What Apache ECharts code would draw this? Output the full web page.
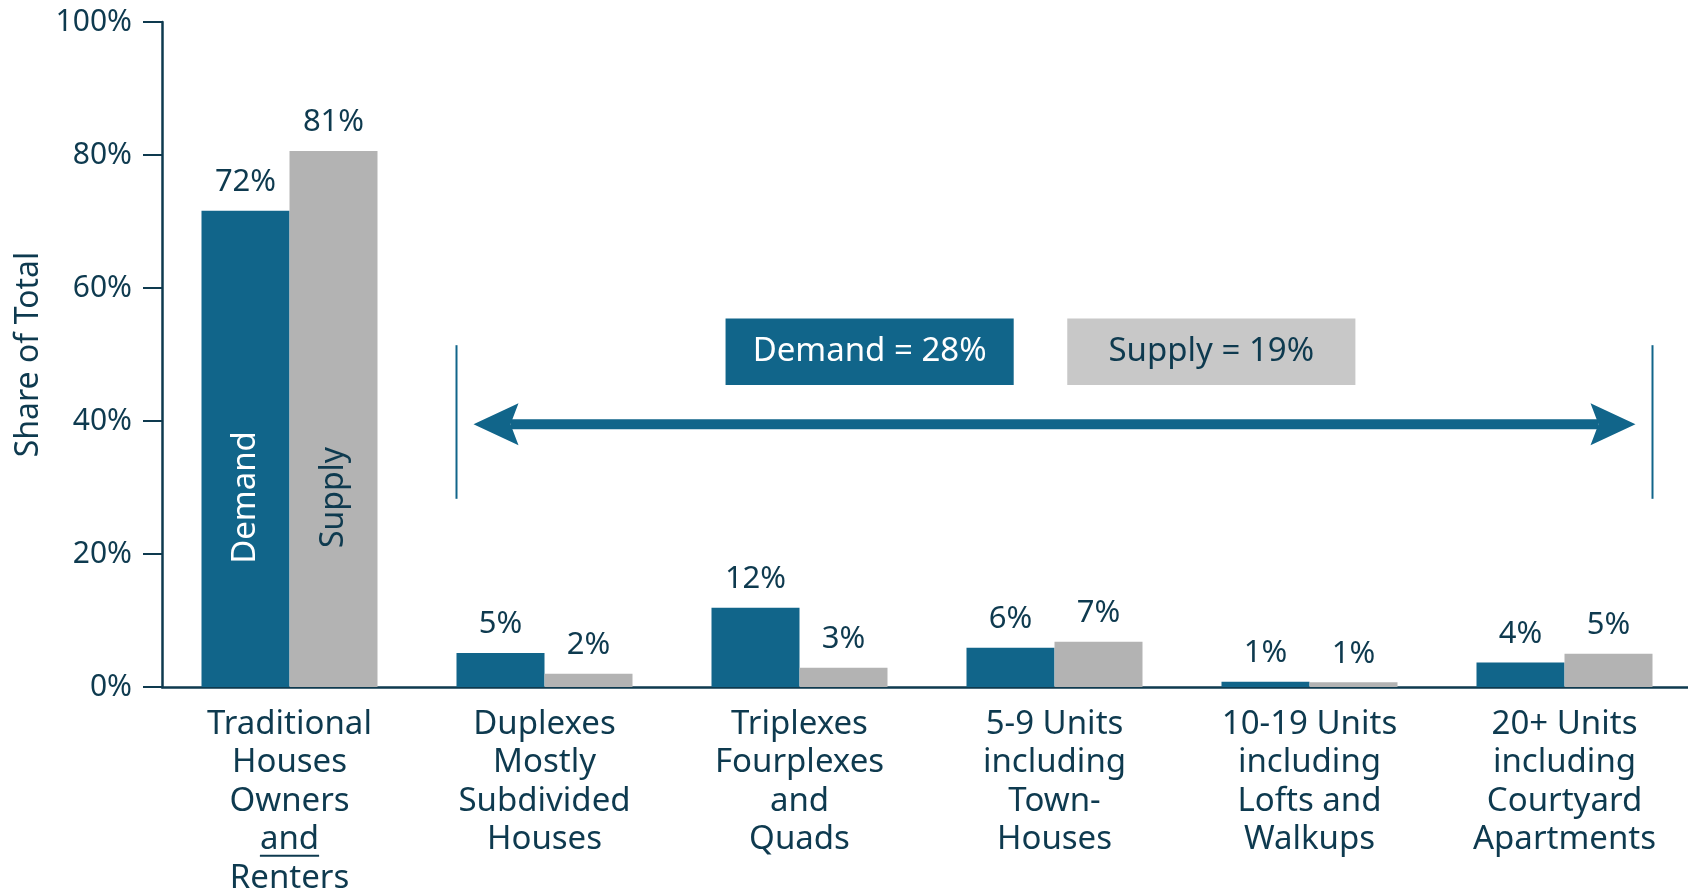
<!DOCTYPE html>
<html>
<head>
<meta charset="utf-8">
<script src="https://cdn.jsdelivr.net/npm/echarts@6/dist/echarts.min.js"></script>
<style>
    html, body { margin: 0; padding: 0; background: #fff; }
    #main { width: 1688px; height: 891px; }
</style>
</head>
<body>
<div id="main"></div>
<script type="text/javascript">
    // data
    var categories = [
        'Traditional\nHouses\nOwners\nand\nRenters',
        'Duplexes\nMostly\nSubdivided\nHouses',
        'Triplexes\nFourplexes\nand\nQuads',
        '5-9 Units\nincluding\nTown-\nHouses',
        '10-19 Units\nincluding\nLofts and\nWalkups',
        '20+ Units\nincluding\nCourtyard\nApartments'
    ];
    var demand = [71.6, 5.1, 11.9, 5.9, 0.8, 3.7];
    var supply = [80.6, 2.0, 2.9, 6.8, 0.7, 5.0];
    var seriesNames = ['Demand', 'Supply'];
    var summaryText = ['Demand = 28%', 'Supply = 19%'];

    var navy = '#0e3a4f', blue = '#11658a', grey = '#b3b3b3', boxGrey = '#c8c8c8';
    var font = 'Noto Sans';
    var catFont = 33, catLine = 38.5, catMargin = 18;

    var chart = echarts.init(document.getElementById('main'));

    var labelStyle = {
        show: true,
        position: 'top',
        distance: 13,
        color: navy,
        fontSize: 31,
        fontFamily: font,
        formatter: function (p) { return Math.round(p.value) + '%'; }
    };

    var option = {
        animation: false,
        grid: { left: 162, right: -4, top: 22, bottom: 204, outerBoundsMode: 'none' },
        xAxis: {
            type: 'category',
            data: categories,
            axisLine: { lineStyle: { color: navy, width: 2.5 } },
            axisTick: { alignWithLabel: true, length: 18, lineStyle: { color: navy, width: 2 } },
            axisLabel: { interval: 0, color: navy, fontSize: catFont, lineHeight: catLine, margin: catMargin, fontFamily: font }
        },
        yAxis: {
            type: 'value',
            min: 0,
            max: 100,
            interval: 20,
            name: 'Share of Total',
            nameLocation: 'middle',
            nameGap: 113,
            nameTextStyle: { color: navy, fontSize: 32, fontFamily: font },
            axisLine: { show: true, lineStyle: { color: navy, width: 2.5 } },
            axisTick: { show: true, length: 19, lineStyle: { color: navy, width: 2 } },
            axisLabel: { formatter: '{value}%', margin: 30, color: navy, fontSize: 30, fontFamily: font },
            splitLine: { show: false }
        },
        series: [
            {
                name: seriesNames[0],
                type: 'bar',
                data: demand,
                barWidth: 88,
                barGap: '0%',
                itemStyle: { color: blue },
                label: labelStyle
            },
            {
                name: seriesNames[1],
                type: 'bar',
                data: supply,
                barWidth: 88,
                barGap: '0%',
                itemStyle: { color: grey },
                label: labelStyle
            }
        ]
    };
    chart.setOption(option);

    // annotation placed from the axes
    function px(i, v) { return chart.convertToPixel({ gridIndex: 0 }, [i, v]); }
    var c0 = px(0, 0)[0];
    var band = px(1, 0)[0] - c0;
    function X(f) { return c0 + f * band; }
    function Y(v) { return px(0, v)[1]; }

    var half = 44;
    var leftX = X(1) - 2 * half;
    var rightX = X(5) + 2 * half;
    var arrowY = Y(39.5);
    var tipL = leftX + 17, tipR = rightX - 17;
    var headL = 45, headH = 21, notch = 8;

    function boxText(text, f0, f1, fill, color) {
        var x0 = X(f0), x1 = X(f1), y0 = Y(55.4), y1 = Y(45.4);
        return [
            { type: 'rect', z: 100, shape: { x: x0, y: y0, width: x1 - x0, height: y1 - y0 }, style: { fill: fill } },
            { type: 'text', z: 101, x: (x0 + x1) / 2, y: (y0 + y1) / 2,
              style: { text: text, fill: color, fontSize: 33, fontFamily: font, align: 'center', verticalAlign: 'middle' } }
        ];
    }

    // underline under "and" in the first category label
    var ctx = document.createElement('canvas').getContext('2d');
    ctx.font = catFont + 'px "' + font + '"';
    var andW = ctx.measureText('and').width;
    var underY = Y(0) + catMargin + 3.5 * catLine + 16;

    var elements = [
        { type: 'line', z: 100, shape: { x1: leftX, y1: Y(51.4), x2: leftX, y2: Y(28.3) }, style: { stroke: blue, lineWidth: 2 } },
        { type: 'line', z: 100, shape: { x1: rightX, y1: Y(51.4), x2: rightX, y2: Y(28.3) }, style: { stroke: blue, lineWidth: 2 } },
        { type: 'line', z: 100, shape: { x1: tipL + headL - notch, y1: arrowY, x2: tipR - headL + notch, y2: arrowY }, style: { stroke: blue, lineWidth: 10 } },
        { type: 'polygon', z: 100, shape: { points: [[tipL, arrowY], [tipL + headL, arrowY - headH], [tipL + headL - notch, arrowY], [tipL + headL, arrowY + headH]] }, style: { fill: blue } },
        { type: 'polygon', z: 100, shape: { points: [[tipR, arrowY], [tipR - headL, arrowY - headH], [tipR - headL + notch, arrowY], [tipR - headL, arrowY + headH]] }, style: { fill: blue } },
        { type: 'line', z: 100, shape: { x1: X(0) - andW / 2, y1: underY, x2: X(0) + andW / 2, y2: underY }, style: { stroke: navy, lineWidth: 2 } },
        { type: 'text', z: 100, x: X(0) - half, y: Y(28.5), rotation: Math.PI / 2,
          style: { text: seriesNames[0], fill: '#fff', fontSize: 33, fontFamily: font, align: 'center', verticalAlign: 'middle' } },
        { type: 'text', z: 100, x: X(0) + half, y: Y(28.5), rotation: Math.PI / 2,
          style: { text: seriesNames[1], fill: navy, fontSize: 32, fontFamily: font, align: 'center', verticalAlign: 'middle' } }
    ];
    elements = elements.concat(boxText(summaryText[0], 1.71, 2.84, blue, '#fff'));
    elements = elements.concat(boxText(summaryText[1], 3.05, 4.18, boxGrey, navy));

    chart.setOption({ graphic: { elements: elements } });
</script>
</body>
</html>
